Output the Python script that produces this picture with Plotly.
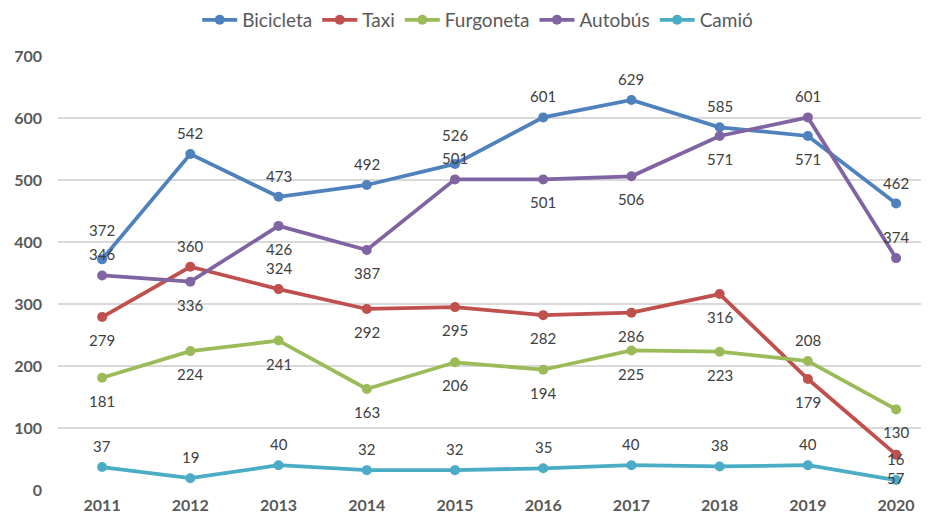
import plotly.graph_objects as go

years = ["2011", "2012", "2013", "2014", "2015", "2016", "2017", "2018", "2019", "2020"]
bicicleta = [372, 542, 473, 492, 526, 601, 629, 585, 571, 462]
taxi = [279, 360, 324, 292, 295, 282, 286, 316, 179, 57]
furgoneta = [181, 224, 241, 163, 206, 194, 225, 223, 208, 130]
autobus = [346, 336, 426, 387, 501, 501, 506, 571, 601, 374]
camio = [37, 19, 40, 32, 32, 35, 40, 38, 40, 16]
y_ticks = [0, 100, 200, 300, 400, 500, 600, 700]

# label placement: "a" above, "A" further above, "b" below
pos_bici = ["A", "a", "a", "a", "A", "a", "a", "a", "b", "a"]
pos_taxi = ["b", "a", "a", "b", "b", "b", "b", "b", "b", "b"]
pos_furg = ["b", "b", "b", "b", "b", "b", "b", "b", "a", "b"]
pos_auto = ["a", "b", "b", "b", "a", "b", "b", "b", "a", "a"]
pos_cami = ["a"] * 10
SHIFT = {"a": 21, "A": 29, "b": -23}

series = [
    ("Bicicleta", bicicleta, "#4F81BD", pos_bici),
    ("Taxi", taxi, "#C0504D", pos_taxi),
    ("Furgoneta", furgoneta, "#9BBB59", pos_furg),
    ("Autobús", autobus, "#8064A2", pos_auto),
    ("Camió", camio, "#4BACC6", pos_cami),
]

FONT = "Lato, 'Open Sans', sans-serif"
xidx = list(range(len(years)))

fig = go.Figure()
annotations = []
for name, vals, col, pos in series:
    fig.add_trace(go.Scatter(
        x=xidx, y=vals, name=name, mode="lines+markers",
        line=dict(color=col, width=3.75),
        marker=dict(color=col, size=10),
    ))
    for x, v, p in zip(xidx, vals, pos):
        annotations.append(dict(
            x=x, y=v, xref="x", yref="y", text=str(v), showarrow=False,
            yshift=SHIFT[p],
            font=dict(family=FONT, size=15, color="#404040"),
        ))

# page body has an 8px margin; figure is sized/offset to compensate
fig.update_layout(
    width=921, height=514,
    margin=dict(l=50, r=0, t=48, b=32, autoexpand=False),
    paper_bgcolor="white", plot_bgcolor="white",
    font=dict(family=FONT, color="#595959"),
    showlegend=True,
    legend=dict(
        orientation="h", x=0.51, xanchor="center", xref="container",
        y=0.9767, yref="container", yanchor="middle",
        font=dict(family=FONT, size=19, color="#595959"),
        itemwidth=35, tracegroupgap=0,
    ),
    annotations=annotations,
    xaxis=dict(
        range=[-0.5, 9.373], tickvals=xidx, ticktext=years,
        showgrid=False, zeroline=False, showline=False, automargin=False,
        ticks="", tickfont=dict(family=FONT, size=16, color="#595959", weight="bold"),
        ticklabelstandoff=4,
    ),
    yaxis=dict(
        range=[0, 700], tickvals=y_ticks, automargin=False,
        showgrid=True, gridcolor="#D9D9D9", gridwidth=1.5,
        zeroline=False, showline=False, ticks="",
        tickfont=dict(family=FONT, size=16, color="#595959", weight="bold"),
        ticklabelstandoff=15,
    ),
)

fig.write_html("out.html")
